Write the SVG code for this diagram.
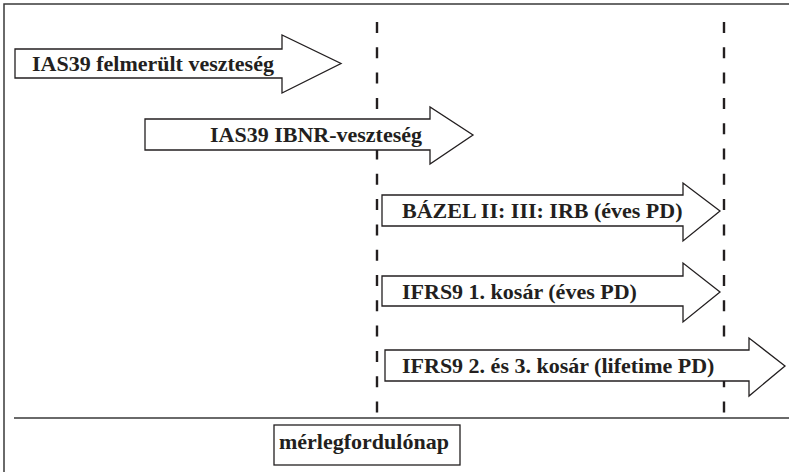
<svg xmlns="http://www.w3.org/2000/svg" width="789" height="472" viewBox="0 0 789 472">
  <style>
    .arrow { fill: #ffffff; stroke: #231f20; stroke-width: 1.3; stroke-linejoin: miter; }
    .lbl { font-family: "Liberation Serif", "Times New Roman", serif; font-weight: bold; font-size: 22px; fill: #231f20; }
    .dash { stroke: #231f20; stroke-width: 2.4; stroke-dasharray: 11 14.3; fill: none; }
    .frame { stroke: #3a3a3a; stroke-width: 1.5; fill: none; }
  </style>
  <rect x="0" y="0" width="789" height="472" fill="#ffffff"/>
  <g id="frame">
    <path class="frame" d="M4,472 V4 H789"/>
    <line x1="14" y1="418" x2="789" y2="418" stroke="#6a6a6a" stroke-width="2"/>
  </g>
  <g id="connectors">
    <line class="dash" x1="377" y1="22" x2="377" y2="413"/>
    <line class="dash" x1="724" y1="22" x2="724" y2="413"/>
  </g>
  <g id="ias39-felmerult">
    <path class="arrow" d="M15,49 H282 V35 L341,63.5 L282,93 V78 H15 Z"/>
    <text class="lbl" x="32" y="71">IAS39 felmerült veszteség</text>
  </g>
  <g id="ias39-ibnr">
    <path class="arrow" d="M145,119 H430 V107 L473,135 L430,164 V150 H145 Z"/>
    <text class="lbl" x="210" y="142">IAS39 IBNR-veszteség</text>
  </g>
  <g id="bazel">
    <path class="arrow" d="M382,195 H683 V183 L720,211 L683,241 V226 H382 Z"/>
    <text class="lbl" x="402" y="218">BÁZEL II: III: IRB (éves PD)</text>
  </g>
  <g id="ifrs9-1">
    <path class="arrow" d="M382,276 H683 V263 L720,292 L683,322 V306 H382 Z"/>
    <text class="lbl" x="402" y="299">IFRS9 1. kosár (éves PD)</text>
  </g>
  <g id="ifrs9-23">
    <path class="arrow" d="M385,350 H749 V338 L785,366 L749,396 V381 H385 Z"/>
    <text class="lbl" x="402" y="373">IFRS9 2. és 3. kosár (lifetime PD)</text>
  </g>
  <g id="merlegfordulonap">
    <rect x="274" y="425" width="186" height="40" fill="#ffffff" stroke="#231f20" stroke-width="1.3"/>
    <text class="lbl" x="279" y="449">mérlegfordulónap</text>
  </g>
</svg>
